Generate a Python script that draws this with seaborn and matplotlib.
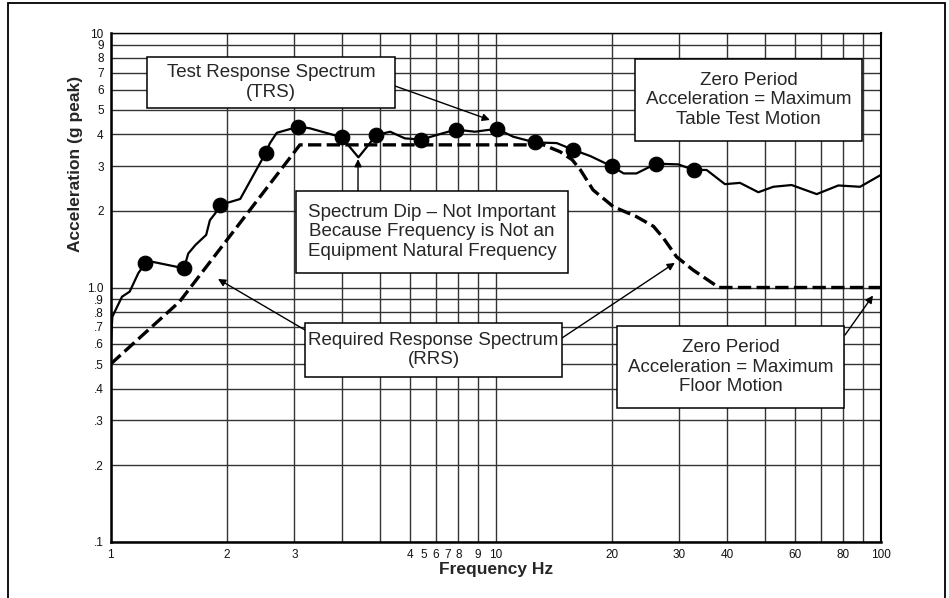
import numpy as np
import pandas as pd
import seaborn as sns
import matplotlib.pyplot as plt
from matplotlib.patches import Rectangle
from matplotlib.ticker import FixedLocator, NullLocator

# Test Response Spectrum (solid line)
trs_freq = [1.0, 1.01, 1.07, 1.12, 1.18, 1.23, 1.29, 1.55, 1.59, 1.66, 1.77, 1.81, 1.87, 1.92,
            2.17, 2.47, 2.53, 2.59, 2.70, 3.07, 3.29, 3.98, 4.40, 4.90, 5.32, 5.81, 6.41, 7.03,
            7.87, 8.84, 9.48, 10.1, 11.1, 12.65, 14.4, 15.9, 17.6, 20.0, 21.5, 23.2, 26.1, 29.8,
            32.7, 35.3, 39.4, 43.1, 48.1, 52.6, 58.7, 68.2, 77.6, 88.4, 100]
trs_accel = [0.585, 0.768, 0.92, 0.963, 1.14, 1.245, 1.26, 1.19, 1.36, 1.47, 1.61, 1.84, 1.96, 2.11,
             2.23, 3.18, 3.39, 3.69, 4.06, 4.29, 4.23, 3.90, 3.25, 3.98, 4.10, 3.86, 3.82, 3.98,
             4.18, 4.10, 4.16, 4.20, 3.92, 3.72, 3.70, 3.48, 3.29, 3.00, 2.81, 2.81, 3.07, 3.05,
             2.90, 2.90, 2.55, 2.58, 2.37, 2.49, 2.53, 2.33, 2.52, 2.49, 2.77]

# test points (black dots) on the TRS
dot_freq = [1.23, 1.55, 1.92, 2.53, 3.07, 3.98, 4.90, 6.41, 7.87, 10.1, 12.65, 15.9, 20.0, 26.1, 32.7]
dot_accel = [1.245, 1.19, 2.11, 3.39, 4.29, 3.90, 3.98, 3.82, 4.18, 4.20, 3.72, 3.48, 3.00, 3.07, 2.90]

# Required Response Spectrum (dashed line)
rrs_freq = [1.0, 1.51, 3.10, 13.3, 14.7, 15.8, 16.6, 17.9, 20.2, 23.2, 25.7, 27.3, 29.5, 32.6, 38.0, 100]
rrs_accel = [0.50, 0.88, 3.64, 3.64, 3.42, 3.18, 2.90, 2.42, 2.08, 1.90, 1.74, 1.56, 1.32, 1.17, 1.0, 1.0]

# axis ticks / labels (the 4..8 labels sit squeezed under the 6..8 gridlines in the original)
x_grid = [1, 2, 3, 4, 5, 6, 7, 8, 9, 10, 20, 30, 40, 50, 60, 70, 80, 90, 100]
x_label_pos = [1, 2, 3, 6, 6.5, 7, 7.5, 8, 9, 10, 20, 30, 40, 60, 80, 100]
x_label_txt = ['1', '2', '3', '4', '5', '6', '7', '8', '9', '10', '20', '30', '40', '60', '80', '100']
y_ticks = [0.1, 0.2, 0.3, 0.4, 0.5, 0.6, 0.7, 0.8, 0.9, 1, 2, 3, 4, 5, 6, 7, 8, 9, 10]
y_labels = ['.1', '.2', '.3', '.4', '.5', '.6', '.7', '.8', '.9', '1.0',
            '2', '3', '4', '5', '6', '7', '8', '9', '10']

trs = pd.DataFrame({'freq': trs_freq, 'accel': trs_accel})
dots = pd.DataFrame({'freq': dot_freq, 'accel': dot_accel})
rrs = pd.DataFrame({'freq': rrs_freq, 'accel': rrs_accel})

sns.set_style('white')
plt.rcParams['font.family'] = ['Liberation Sans', 'DejaVu Sans']

W, H = 949, 598
fig = plt.figure(figsize=(W / 100, H / 100), dpi=100)
ax = fig.add_axes([110.7 / W, 1 - 541.7 / H, 770 / W, 508.4 / H])

ax.set_xscale('log')
ax.set_yscale('log')
ax.set_xlim(1, 100)
ax.set_ylim(0.1, 10)

ax.xaxis.set_major_locator(FixedLocator(x_label_pos))
ax.set_xticklabels(x_label_txt)
ax.xaxis.set_minor_locator(NullLocator())
ax.set_yticks(y_ticks)
ax.set_yticklabels(y_labels)
ax.yaxis.set_minor_locator(NullLocator())
ax.grid(False)
ax.grid(True, axis='y', which='major', color='#333333', lw=1.0)
# vertical gridlines drawn separately since tick labels are offset
for xv in x_grid:
    ax.axvline(xv, color='#333333', lw=1.0, zorder=0.5)
ax.tick_params(axis='both', which='both', length=0, labelsize=8.5, pad=5, colors='#111111')

for side, lw in [('left', 1.8), ('bottom', 1.8), ('right', 1.5), ('top', 1.0)]:
    ax.spines[side].set_color('black')
    ax.spines[side].set_linewidth(lw)

sns.lineplot(data=rrs, x='freq', y='accel', ax=ax, color='black', lw=2.4,
             linestyle=(0, (4, 1.6)), estimator=None, sort=False, zorder=3)
sns.lineplot(data=trs, x='freq', y='accel', ax=ax, color='black', lw=1.6,
             estimator=None, sort=False, zorder=4)
sns.scatterplot(data=dots, x='freq', y='accel', ax=ax, color='black', s=110,
                edgecolor='black', zorder=5)

ax.set_xlabel('Frequency Hz', fontsize=12.5, fontweight='bold')
ax.set_ylabel('Acceleration (g peak)', fontsize=12.5, fontweight='bold')
ax.xaxis.set_label_coords(0.5, -0.04)
ax.xaxis.label.set_va('top')
ax.yaxis.set_label_coords(-0.036, 0.743)


def fx(px):
    return px / W


def fy(py):
    return 1 - py / H


def callout(x0, y0, x1, y1, text):
    fig.add_artist(Rectangle((fx(x0), fy(y1)), fx(x1) - fx(x0), fy(y0) - fy(y1),
                             transform=fig.transFigure, facecolor='white',
                             edgecolor='black', lw=1.1, zorder=6))
    fig.text(fx((x0 + x1) / 2), fy((y0 + y1) / 2), text, ha='center', va='center',
             fontsize=13.5, linespacing=1.2, zorder=7)


def arrow(start_px, target):
    ax.annotate('', xy=target, xycoords='data',
                xytext=(fx(start_px[0]), fy(start_px[1])), textcoords='figure fraction',
                arrowprops=dict(arrowstyle='-|>', color='black', lw=1.0,
                                mutation_scale=11, shrinkA=0, shrinkB=0), zorder=6)


callout(147, 57, 395, 108, 'Test Response Spectrum\n(TRS)')
callout(296, 191, 568, 273, 'Spectrum Dip \u2013 Not Important\nBecause Frequency is Not an\nEquipment Natural Frequency')
callout(635, 59, 862, 141, 'Zero Period\nAcceleration = Maximum\nTable Test Motion')
callout(305, 323, 562, 377, 'Required Response Spectrum\n(RRS)')
callout(617, 326, 844, 408, 'Zero Period\nAcceleration = Maximum\nFloor Motion')

arrow((395, 86), (9.66, 4.56))
arrow((358, 191), (4.39, 3.2))
arrow((305, 330), (1.90, 1.08))
arrow((562, 338), (29.2, 1.25))
arrow((845, 335), (95.5, 0.93))

# outer frame of the figure
fig.add_artist(Rectangle((fx(8), -0.05), fx(945) - fx(8), fy(3.3) + 0.05,
                         transform=fig.transFigure, fill=False, edgecolor='black',
                         lw=1.3, clip_on=False))

fig.savefig('out.png', dpi=100)
